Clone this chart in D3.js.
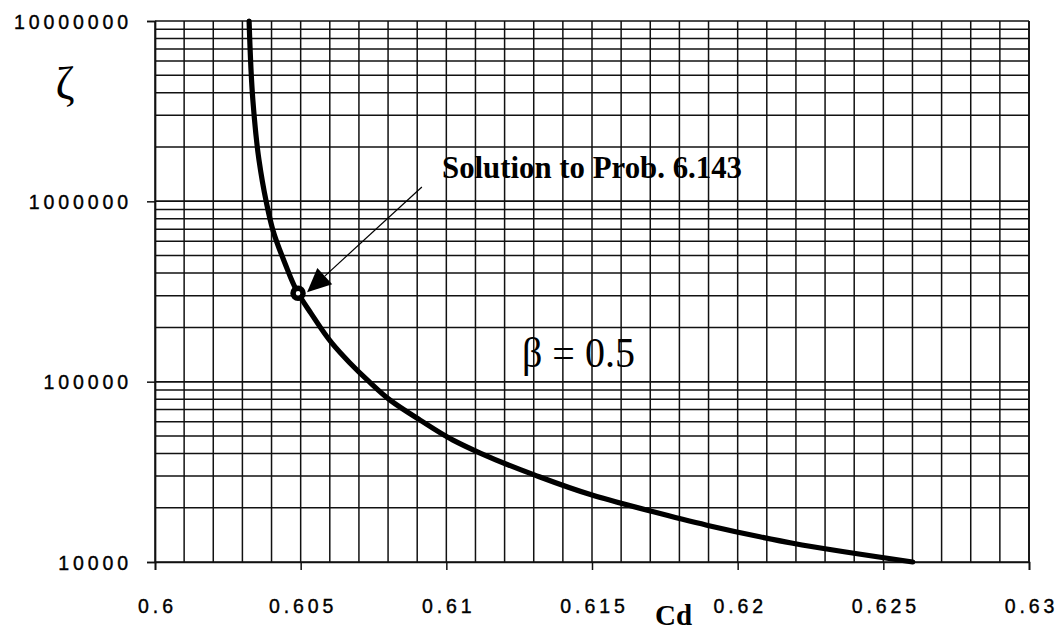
<!DOCTYPE html>
<html>
<head>
<meta charset="utf-8">
<script src="https://cdn.jsdelivr.net/npm/d3@7"></script>
<style>
  html, body { margin: 0; padding: 0; background: #fff; }
  svg { display: block; }
  .tick text { font-family: "Liberation Sans", Arial, sans-serif; font-size: 19.5px; letter-spacing: 3.9px; fill: #000; stroke: #000; stroke-width: 0.4px; }
</style>
</head>
<body>
<svg id="chart" width="1058" height="630"></svg>
<script>
// ---- data ----
const cdValues   = [0.60323, 0.60336, 0.60357, 0.60381, 0.60405, 0.60446, 0.60491, 0.60535, 0.60608, 0.60669, 0.60735, 0.60807, 0.6091, 0.61023, 0.61116, 0.61304, 0.615, 0.6170, 0.61894, 0.62076, 0.62189, 0.62601];
const zetaValues = [1e7, 3.63e6, 1.69e6, 1.01e6, 6.9e5, 4.54e5, 3.09e5, 2.4e5, 1.63e5, 1.27e5, 1.0e5, 7.9e4, 6.12e4, 4.74e4, 4.02e4, 3.03e4, 2.35e4, 1.917e4, 1.6e4, 1.38e4, 1.27e4, 1.0e4];
const solutionPoint = [0.60491, 3.09e5];
const arrowFrom = [0.60916, 1.2e6];
const arrowTo   = [0.60522, 3.13e5];
const xTickValues = [0.6, 0.605, 0.61, 0.615, 0.62, 0.625, 0.63];
const xTickLabels = ["0.6", "0.605", "0.61", "0.615", "0.62", "0.625", "0.63"];
const yTickValues = [1e4, 1e5, 1e6, 1e7];
const yTickLabels = ["10000", "100000", "1000000", "10000000"];

const svg = d3.select("#chart");
const pLeft = 155, pRight = 1029, pTop = 21, pBottom = 562;
const x = d3.scaleLinear().domain([0.6, 0.63]).range([pLeft, pRight]);
const y = d3.scaleLog().domain([1e4, 1e7]).range([pBottom, pTop]);

const ink = "#111";

// grid: vertical every 0.001
const gx = d3.range(0, 31).map(i => 0.6 + i * 0.001);
svg.append("g").selectAll("line").data(gx).join("line")
  .attr("x1", d => x(d)).attr("x2", d => x(d))
  .attr("y1", pTop).attr("y2", pBottom)
  .attr("stroke", ink).attr("stroke-width", 1.5);

// grid: horizontal log minor
const gy = [];
[1e4, 1e5, 1e6].forEach(dec => { for (let k = 1; k <= 10; k++) gy.push(dec * k); });
svg.append("g").selectAll("line").data(gy).join("line")
  .attr("x1", pLeft).attr("x2", pRight)
  .attr("y1", d => y(d)).attr("y2", d => y(d))
  .attr("stroke", ink).attr("stroke-width", 1.5);

// axes
const xAxis = d3.axisBottom(x).tickValues(xTickValues)
  .tickFormat((d, i) => xTickLabels[i]).tickSize(8).tickPadding(29);
const xg = svg.append("g").attr("transform", `translate(0,${pBottom})`).call(xAxis);
xg.select(".domain").attr("stroke", ink).attr("stroke-width", 1.7);
xg.selectAll(".tick line").attr("stroke", ink).attr("stroke-width", 1.5);
xg.selectAll(".tick text").attr("dx", "2px");

const yAxis = d3.axisLeft(y).tickValues(yTickValues)
  .tickFormat((d, i) => yTickLabels[i]).tickSize(8).tickPadding(15);
const yg = svg.append("g").attr("transform", `translate(${pLeft},0)`).call(yAxis);
yg.select(".domain").attr("stroke", ink).attr("stroke-width", 1.7);
yg.selectAll(".tick line").attr("stroke", ink).attr("stroke-width", 1.5);
yg.selectAll(".tick text").attr("dy", "0.36em");

// right frame
svg.append("line").attr("x1", pRight).attr("x2", pRight).attr("y1", pTop).attr("y2", pBottom)
  .attr("stroke", ink).attr("stroke-width", 1.7);

// curve
const pts = cdValues.map((c, i) => [c, zetaValues[i]]);
const line = d3.line().x(d => x(d[0])).y(d => y(d[1])).curve(d3.curveMonotoneY);
svg.append("path").datum(pts).attr("d", line)
  .attr("fill", "none").attr("stroke", "#000").attr("stroke-width", 5.2)
  .attr("stroke-linecap", "round");

// arrow
const ax1 = x(arrowFrom[0]), ay1 = y(arrowFrom[1]);
const ax2 = x(arrowTo[0]), ay2 = y(arrowTo[1]);
const ang = Math.atan2(ay2 - ay1, ax2 - ax1);
const headLen = 24, headW = 11;
const bx = ax2 - headLen * Math.cos(ang), by = ay2 - headLen * Math.sin(ang);
svg.append("line").attr("x1", ax1).attr("y1", ay1).attr("x2", bx).attr("y2", by)
  .attr("stroke", "#000").attr("stroke-width", 1.2);
const px = -Math.sin(ang), py = Math.cos(ang);
svg.append("path")
  .attr("d", `M${ax2},${ay2} L${bx + px * headW},${by + py * headW} L${bx - px * headW},${by - py * headW} Z`)
  .attr("fill", "#000");

// solution point
svg.append("circle").attr("cx", x(solutionPoint[0])).attr("cy", y(solutionPoint[1]))
  .attr("r", 5).attr("fill", "#fff").attr("stroke", "#000").attr("stroke-width", 5.5);

// texts
svg.append("text").attr("x", 442).attr("y", 178)
  .attr("font-family", "'Liberation Serif', 'Times New Roman', serif")
  .attr("font-weight", "bold").attr("font-size", 31)
  .attr("textLength", 300).attr("lengthAdjust", "spacingAndGlyphs")
  .text("Solution to Prob. 6.143");

svg.append("text").attr("x", 522).attr("y", 367)
  .attr("font-family", "'Liberation Serif', 'Times New Roman', serif")
  .attr("font-size", 42)
  .attr("textLength", 113).attr("lengthAdjust", "spacingAndGlyphs")
  .text("β = 0.5");

svg.append("text").attr("x", 655).attr("y", 625)
  .attr("font-family", "'Liberation Serif', 'Times New Roman', serif")
  .attr("font-weight", "bold").attr("font-size", 29)
  .text("Cd");

svg.append("text").attr("x", 65).attr("y", 99).attr("text-anchor", "middle")
  .attr("font-family", "'Liberation Serif', 'Times New Roman', serif")
  .attr("font-size", 46)
  .text("ζ");
</script>
</body>
</html>
